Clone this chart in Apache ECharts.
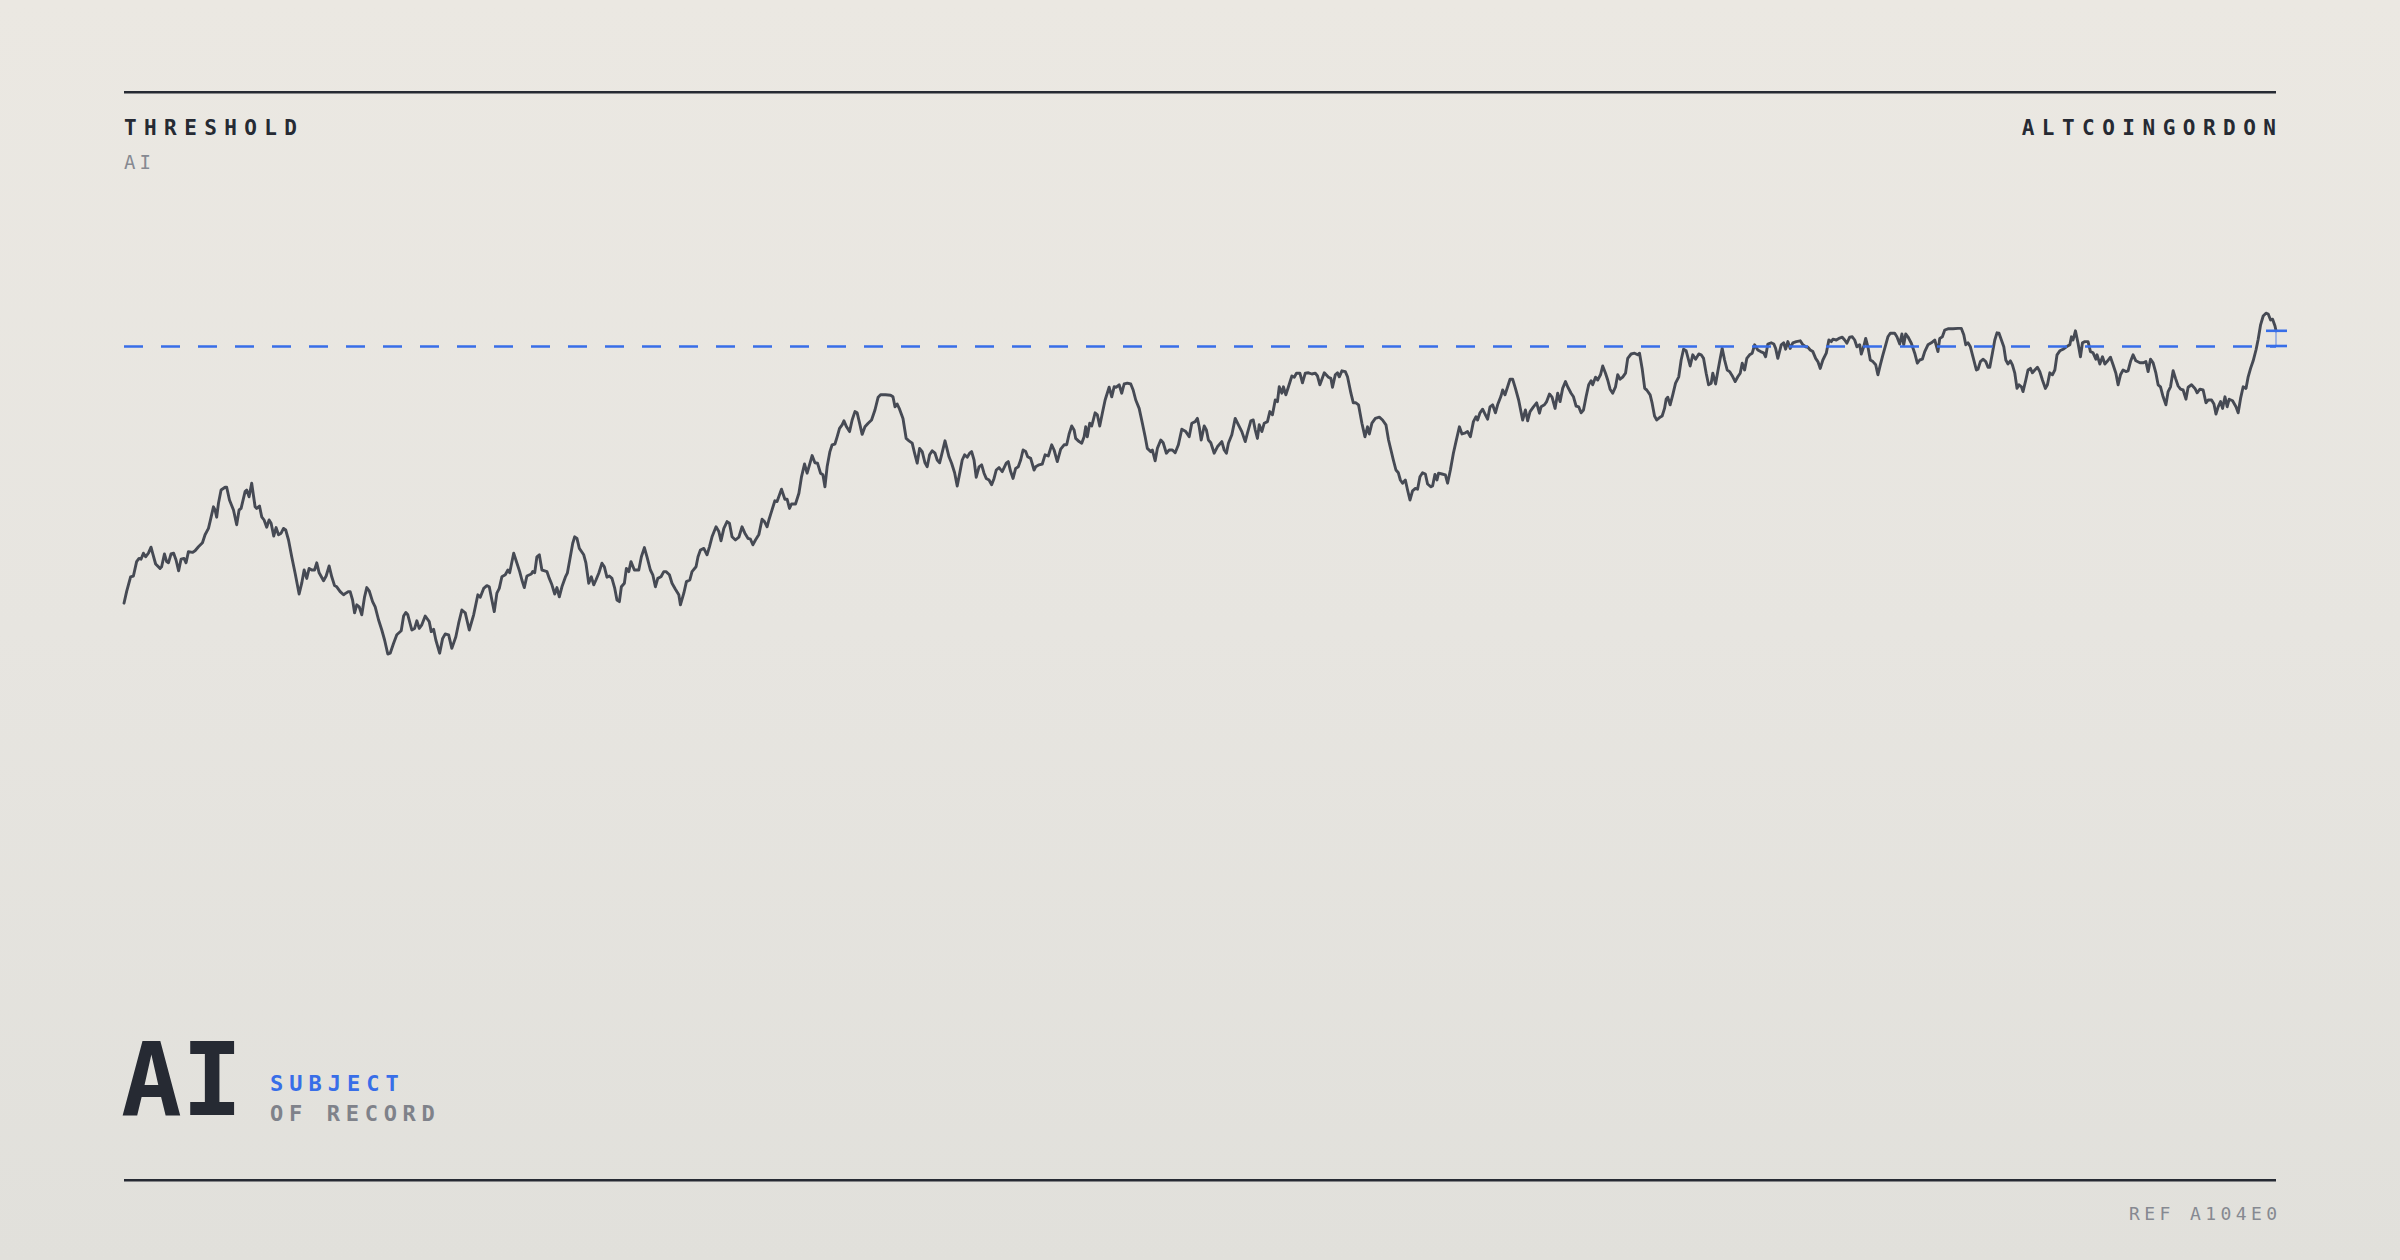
<!DOCTYPE html>
<html><head><meta charset="utf-8">
<script src="https://cdn.jsdelivr.net/npm/echarts@6/dist/echarts.min.js"></script>
<style>
html,body{margin:0;padding:0;width:2400px;height:1260px;overflow:hidden;}
body{background:linear-gradient(180deg,#ebe8e2 0%,#e7e5e0 50%,#e1e0db 100%);}
#chart{width:2400px;height:1260px;}
</style></head><body><div id="chart"></div>
<script>
// ---- data ----
const days = [
0,1.3,3.3,4.7,6.3,7.5,8.5,9.7,10.8,12.2,13.5,14.3,15.8,18,18.8,20.2,21.3,22.2,23.5,24.8,26,27.3,28.5,30,31,32.2,34.2,35.5,37.2,39.2,40.5,42.2,43,44.7,45.5,46.3,47.2,48.5,50.5,51.3,52.7,54.7,56.3,57.5,58.5,60.5,61.3,62.5,63.8,65.5,66.3,67.7,68.8,70,71.3,72.5,73.5,74.8,76,77.2,78.5,79.7,80.8,82.2,83.8,85.5,87.5,88.8,90,91.3,92.5,93.8,95.2,96.3,97.5,99.7,101,102.5,103.8,105.2,106.3,108,109.7,110.8,112.2,113,114.2,115.2,116.3,117.5,118.8,120.2,121.3,122.5,124.2,125.5,127.2,128.8,130.2,131.8,133,134.7,136.3,138.5,139.7,140.8,141.8,143.8,145.2,146.3,147.5,148.8,150.5,
152.5,153.5,154.7,155.8,157.7,159.2,160.5,162.2,163.8,165.8,167.2,168.8,170.5,172.5,174.7,176.8,178,179.7,181.3,182.5,183.8,185,186.3,187.5,188.8,190.5,191.8,192.7,194.7,195.8,197.7,198.8,200,201.3,203.5,204.2,205.2,206.3,207.5,208.8,210.2,211.3,212.5,213.8,215.2,216.3,217.5,218.8,220.5,221.5,222.7,224.2,225.2,226.3,227.5,229.7,230.8,232.2,233.5,234.7,235.8,237.2,238.8,240,241.3,242.5,243.8,245.2,246.3,247.5,248.5,250,251,252.2,253.3,255,257.2,258.5,260,261.3,263,264.2,265.5,266.7,268.3,269.7,270.8,272.5,273.8,275.5,277.2,278,279.7,281,282.7,283.8,285.8,286.8,288,289.7,291.3,292.5,293.8,295.8,297.2,298.3,299.7,301.3,302.5,303.8,305.5,
307.2,308.8,310.2,311.8,313,314.2,315.5,317.2,318.8,320,321.3,322.2,323.5,325.2,326.3,328.5,330.2,331.3,332.5,333.5,335.5,337.2,338.5,340,341.3,342.5,343.8,345.2,346.5,348,349.2,350.2,351.3,352.7,353.8,355.2,356.3,357.5,358.8,359.7,361,362.5,363.8,365.2,366.3,367.5,368.8,370.2,371.8,373.5,375.2,376.8,378,380.5,383,384.2,385.2,386.3,387.5,389.2,390.8,392.2,393.8,395,396.3,397.5,398.8,400.2,401.3,402.5,403.8,405.2,406.3,407.5,408.5,410.2,412.2,413.5,415,416.3,417.7,418.8,420,421.3,422.5,423.5,424.7,425.8,427.2,428.5,429.7,430.8,432.2,433.5,434.7,435.8,437.2,438.8,440.8,441.8,443,444.2,445.5,446.8,448,449.2,450.5,451.5,453,454.7,455.5,457.2,458.8,460.2,
461.8,463.5,464.7,466.3,468,469.7,471,472.2,473.5,474.7,475.5,477.2,478.5,479.7,480.5,481.3,482.5,483.5,485.2,486.3,487.5,488.8,490.2,492.2,493.5,494.7,495.8,497.2,498.5,499.7,501.3,503,504.2,505.5,507.2,508.8,510.2,511.3,513,513.8,515.2,516.3,518,519.2,520.8,522.2,523.8,525.2,526.8,528.5,530.5,532.2,533.5,535.2,536.3,537.2,538.2,539.7,540.8,541.8,543,544.7,546.3,548.5,549.7,550.8,551.8,553.5,555.2,556.8,558.5,560.2,561.3,563,564.2,565.2,566.3,567.2,568.5,569.7,571.3,572.5,573.8,575.2,576.3,577.2,578.5,579.3,580.5,581.8,583.5,584.7,585.8,587.5,588.8,590.2,591.8,593.5,595.2,596.3,597.5,599.7,601.8,603,603.8,605.2,606.3,607.2,608.5,610.2,611.3,613,614.2,615.5,
616.8,618.5,620,621.3,622.2,623.5,625.2,627.2,628.8,630.5,631.8,633,634.2,635.5,636.7,637.7,638.8,640.2,641.3,642.5,643.8,645.2,646.3,647.5,648.8,650.2,651.3,653,653.8,655,656,656.8,658.5,660.2,661.3,662.7,664.2,665.5,667.2,668.5,670.2,671.3,672.7,674.2,675.5,676.3,677.5,678.8,680.2,681.3,682.5,683.8,685.2,686.3,688,688.8,690,691.3,692.5,693.8,695.2,696.8,698.8,700.2,701.3,702.5,704.2,705.8,707.2,708,709.7,710.8,712.2,713.5,715,716.3,717.5,718.8,720.2,721.3,723,724.2,725.5,726.8,728,729.2,730.5,731.8,733,733.8,735.2,736.3,737.7,738.8,740.2,741.3,742.5,743.8,745.2,746.3,747.5,748.8,750.2,751.3,753,754.7,756.3,757.2,758.5,759.8,760.8,762.5,763.5,764.7,765.8,767.2,768.5,769.7,770.5,
771.3,772.5,773.8,775.2,776.8,778,779.2,780.5,782.5,783.8,785.2,786.8,788,789.2,790.5,791.7,793,793.8,795.2,796.3,797.5,798.5,799.7,801,802.2,803.8,805,806.3,807.5,808.5,809.7,810.8,812.2,813.5,814.7,816.3,817.7,819.2,820.2,821.3,823,824.3,825.2,826.3,828,829.2,830.2,831.3,832.5,833.8,835.5,837.5,838.8,840.2,841.3,842.5,843.8,845.2,846.3,847.5,848.8,850.5,851.8,853,853.8,855.5,856.8,858.5,859.7,860.8,862.2,863.5,864.7,865.8,867.2,868,869.2,870.2,871.3,872.5,873.8,875.2,876.3,877.5,878.8,880.2,881.3,882.5,884.7,885.8,887.2,888.3,889.2,890.2,891.3,893,894.7,896,897.2,898.5,899.7,901.3,903,904.7,906.3,907.2,908.5,909.7,911.3,913.8,916.3,918,919.2,920.2,921.3,922.5,923.8,925.5,
926.3,927.5,928.8,930.2,931.3,932.2,933.5,934.7,935.8,936.8,938,939.2,940.2,941.3,942.5,943.5,944.7,945.8,946.8,948,948.8,950.2,951.3,952.5,953.5,954.7,956,957.2,958.5,960,961,962.2,963.5,964.7,965.8,967.2,968.8,970.5,972.2,973,973.8,975,976.3,977.5,978.5,979.7,981.3,982.5,983.8,985.2,985.8,987.2,988.5,989.7,990.8,992.5,993.8,995.2,996.3,997.5,998.8,1000.2,1001.3,1002.5,1003.8,1005.2,1007.2,1008.8,1010.2,1011.3,1012.5,1013.8,1015.2,1016.3,1017.5,1018.8,1020.2,1021.3,1022.5,1023.8,1025,1026.3,1027.5,1028.8,1030.2,1031.3,1033,1034.7,1035.8,1037.2,1038.8,1040.2,1041.3,1043,1044.2,1045.2,1046.3,1047.5,1048.5,1049.7,1050.8,1051.8,1053.5,1055.2,1056.3,1057.5,1058.8,1060.2,1061.3,1062.5,1063.8,1065.2,1066.3,1067.5,1068.8,1070.2,1071.3,1072.5,1073.5,1074.7,1075.2
];
const values = [
21.7,24.6,28.3,28.5,32.1,32.9,32.7,34.2,33.3,34.2,35.7,34.2,31.5,30.4,30.8,34,32.1,31.8,34,34.2,32.5,29.8,32.7,32.9,31.8,34.6,34.4,34.8,35.8,36.8,38.8,40.4,42.1,45.8,45,43.2,46.7,50,50.7,50.7,47.5,45,41.3,45,45.4,49.6,50,48.3,51.7,45.8,45.4,46,43.3,42.5,40.7,42.5,41.7,38.5,40.6,38.8,39.2,40.4,40,37.5,33.3,29.2,24,26.7,30,27.9,30.4,30,30,31.8,29.3,27.3,28.5,31,28.3,26.1,25.8,24.6,23.8,24.2,24.6,24.6,22.5,19.3,21.3,20.8,18.8,23.3,25.6,24.8,22.1,20.8,17.5,15,12.5,9,9.2,11.7,13.8,14.8,18.5,19.4,18.8,15,15.4,17.3,15.4,16.3,18.5,
17.1,14.6,15.2,12.5,9.2,12.9,14,13.8,10.4,13.3,16.7,20,19.3,15,18.8,23.8,23.2,25.4,26.1,25.8,22.5,19.6,24.2,25.4,28.3,28.8,30,29.3,34.2,32.5,29.6,27.5,25.6,28.5,29,29.6,29.3,33.3,33.8,30,29.8,29.6,27.9,26.3,24,25.6,23.3,25.8,28.2,29.2,32.5,36.7,38.3,37.9,35.4,33.8,31.7,26.7,28.3,26.3,27.5,29.2,31.7,30.8,28.2,28.5,27.9,25.4,22.5,22.1,25.8,26.7,30.4,29.6,32.1,30,30,33.3,35.6,33.3,30,28.8,25.8,27.9,28.3,29.6,29.6,28.8,26.7,25.2,23.8,21.3,24.2,27.1,27.5,29.6,30.8,33.3,35,35.4,33.8,35.8,38.3,40.8,39.6,37.3,40.4,42.1,41.7,38.3,37.5,
38.2,40.8,39.2,37.9,37.7,36.3,37.5,38.9,42.7,42.1,40.8,42.5,44.6,47.3,47.1,50.2,47.7,47.7,45.4,46.5,46.5,49.2,53.3,56.5,54.2,56.3,58.6,56.8,56.7,54.2,53.8,50.8,55.8,59.6,61.3,61.5,63.3,65.4,66.3,67.3,65.8,64.6,67.5,69.6,69.3,66.8,63.9,65.8,66.7,67.5,70,73.2,73.8,73.8,73.7,73.3,70.8,71.5,70.2,67.9,62.9,62.3,61.7,59.2,56.7,60.4,59.6,56.8,55.8,58.8,59.8,59.2,57.5,56.8,58.8,62.3,58.3,56.7,54.3,51,54.6,57.5,58.8,58.2,59.2,59.6,57.5,53.2,55.8,56.3,54.2,52.9,52.5,51.3,52.9,55,55.6,54.6,56.7,57.1,54.6,52.9,55.4,55.8,57.5,60,59.6,58.3,57.9,55,55.8,56.3,56.5,58.8,
58.5,61.3,60,57.1,60.2,61.3,61.3,64,66,65,62.9,62.1,61.7,63.3,65.8,63.3,66.7,66,69.3,68.8,66,69.2,72.5,75.7,73.3,75.8,75.7,76.3,74.2,76.5,76.7,76.5,75,72.5,70.4,66.7,63.3,60.4,59.6,60,57.3,60.4,62.5,61.8,59.2,60,60,59.3,61.3,65.2,64.6,63.3,66.7,67.1,67.9,65.8,62.5,66,65,62.5,61.8,59.2,60.8,62.1,60,59.2,61.7,63.8,67.9,66.3,64.6,62.1,64.2,67.3,67.5,65,62.9,66.3,64.6,66.7,67.1,69.6,68.8,72.5,72.1,75.8,74.2,75.8,73.8,75.8,78.5,78.2,79.2,79.2,76.8,79.2,79.3,79,79.2,78.5,76.3,79.3,78.2,77.9,75.7,78.8,79.3,78.3,79.8,79.6,78.3,74.2,71.8,71.8,
71.3,66.7,63.3,65.8,64,66.7,67.9,68.2,67.5,66.3,62.5,60,57.5,55,54.3,52.5,51.7,52.5,50,47.5,49.8,50.4,50.2,53.3,54.3,54,51.5,50.8,51,53.9,52.5,54.2,54,53.8,51.7,55,59.2,62.1,65.8,64,64.3,64.6,63.3,67.1,68.3,67.5,69.3,70.2,68.8,67.7,70.8,71.3,69.3,71.3,73.5,75,73.8,75.8,77.7,77.7,75.4,72.5,67.5,70,67.3,69.6,70.8,71.8,69.2,70.8,71.3,72.1,74,73.2,70.4,74.2,72.1,75.4,77.1,75.8,74.2,73.3,71,70.8,69.3,70,73.3,76.3,77.3,76.3,78.2,77.5,78.8,81,79.2,77.5,75.2,74.2,75.8,78.8,77.7,78.2,79.2,82.9,84,84.2,83.8,84.2,80.4,75.4,75,73.8,71.7,68.5,67.5,68.1,68.5,70.4,72.7,
73.2,71.3,73.8,76.7,78.3,82.5,85.2,84.8,81,83.8,82.7,84,83.8,82.9,79.2,76.3,76.7,79.2,76.5,79.6,82.9,85.4,82.5,80,79.6,78.3,77.1,78.3,79.2,81.7,80,82.9,83.8,84.2,86.3,85,84.6,84.3,83.3,86.5,86.8,86.5,85.4,82.9,86.3,86.8,85.2,87.1,85.4,86.8,87.1,87.3,86.3,85.8,85.7,85,84.6,82.9,82.1,80.4,82.5,84.2,87.5,87.1,87.7,87.5,87.9,88.2,87.5,86.7,88.2,88.3,87.5,85.8,86.3,84,85.8,87.9,85.8,82.5,82.1,81.3,78.8,81.3,83.8,86.3,88.3,89.2,89.2,88.3,86.5,89,86.3,89,88.3,86.7,84.2,81.7,82.5,82.7,84.6,86.3,86.8,87.5,84.6,87.9,88.3,90,90.3,90.3,90.4,90.4,88.8,86.3,86.8,85.8,83.3,80,
80.2,82.1,82.7,82.1,80.7,80.7,84.2,87.5,89.3,89.2,87.5,85.8,82.5,81.5,82.3,81.3,79.2,75.4,76.3,75.8,74.6,77.5,80,80.4,79.3,80,80.7,79.6,77.5,75.4,76.3,79.3,78.8,80,83.8,84.8,85.2,85.8,86.3,88.3,87.5,89.8,86.7,83.3,86.8,87.1,87.1,84.6,84.3,82.7,83.8,81.5,83.3,81.5,82.1,83.2,81.3,79.2,76.3,78.8,80,79.6,79.8,82.1,83.8,82.3,81.8,81.8,82.1,79.6,82.7,81.8,79.2,76.3,75.8,73.3,71.3,74.6,75.8,79.8,77.9,76,75.2,75,72.7,75.7,76.3,75.4,74.3,75.2,75,71.8,72.5,72.5,71.5,69,70.8,72.1,70.4,73.3,70.8,72.7,72.3,70.8,69.3,72.9,75.8,75.4,78.3,80.4,82.3,85,87.7,91.3,93.5,94.2,94,92.5,92.7,91,89.8
];
const threshold = 86;
const titleLeft = 'THRESHOLD';
const subLeft = 'AI';
const titleRight = 'ALTCOINGORDON';
const bigMark = 'AI';
const tagTop = 'SUBJECT';
const tagBottom = 'OF RECORD';
const refText = 'REF A104E0';

if (days.length !== values.length) throw new Error('length mismatch ' + days.length + ' vs ' + values.length);

const MONO = '"DejaVu Sans Mono", "Liberation Mono", monospace';
const DARK = '#262a33';
const BLUE = '#386ee8';
const GRAY = '#868991';

const lastIdx = days.length - 1;
const chart = echarts.init(document.getElementById('chart'), null, {renderer: 'svg', width: 2400, height: 1260});

const spacingRules = [
  {text: titleLeft, size: 21, ls: 7.4},
  {text: titleRight, size: 21, ls: 7.5},
  {text: subLeft, size: 19, ls: 4},
  {text: tagTop, size: 22, ls: 6},
  {text: tagBottom, size: 22, ls: 5.7},
  {text: refText, size: 18, ls: 4.4}
];

chart.setOption({
  backgroundColor: 'transparent',
  animation: false,
  grid: {left: 124, right: 124, top: 290, bottom: 570, containLabel: false},
  xAxis: {type: 'value', min: days[0], max: days[lastIdx], show: false},
  yAxis: {type: 'value', min: 0, max: 100, show: false, splitLine: {show: false}},
  series: [
    {
      type: 'line',
      data: days.map((d, i) => [d, values[i]]),
      showSymbol: false,
      symbol: 'none',
      lineStyle: {color: '#464a54', width: 2.9, join: 'round', cap: 'round'},
      z: 3,
      silent: true,
      markLine: {
        silent: true,
        symbol: 'none',
        label: {show: false},
        lineStyle: {color: BLUE, width: 2.6, type: [19, 18], opacity: 1},
        data: [{yAxis: threshold}]
      }
    },
    {
      type: 'custom',
      silent: true,
      z: 4,
      clip: false,
      data: [[days[lastIdx], values[lastIdx], threshold]],
      renderItem: function (params, api) {
        const p = api.coord([api.value(0), api.value(1)]);
        const t = api.coord([api.value(0), api.value(2)]);
        return {
          type: 'group',
          children: [
            {type: 'line', shape: {x1: p[0], y1: p[1], x2: p[0], y2: t[1]}, style: {stroke: 'rgba(56,110,232,0.55)', lineWidth: 1.5}},
            {type: 'line', shape: {x1: p[0] - 10, y1: p[1], x2: p[0] + 11, y2: p[1]}, style: {stroke: BLUE, lineWidth: 2.6}},
            {type: 'line', shape: {x1: p[0] - 10, y1: t[1], x2: p[0] + 11, y2: t[1]}, style: {stroke: BLUE, lineWidth: 2.6}}
          ]
        };
      }
    }
  ],
  graphic: [
    {type: 'rect', silent: true, shape: {x: 124, y: 91, width: 2152, height: 2.4}, style: {fill: DARK}},
    {type: 'rect', silent: true, shape: {x: 124, y: 1179, width: 2152, height: 2.4}, style: {fill: DARK}},
    {type: 'text', silent: true, x: 124, y: 127.5, style: {text: titleLeft, font: 'bold 21px ' + MONO, fill: DARK, align: 'left', verticalAlign: 'middle'}},
    {type: 'text', silent: true, x: 124, y: 161.5, style: {text: subLeft, font: '19px ' + MONO, fill: GRAY, align: 'left', verticalAlign: 'middle'}},
    {type: 'text', silent: true, x: 2276 + 7.5, y: 127.5, style: {text: titleRight, font: 'bold 21px ' + MONO, fill: DARK, align: 'right', verticalAlign: 'middle'}},
    {type: 'text', silent: true, x: 121, y: 1080, style: {text: bigMark, font: 'bold 101px ' + MONO, fill: DARK, align: 'left', verticalAlign: 'middle'}},
    {type: 'text', silent: true, x: 270, y: 1083.5, style: {text: tagTop, font: 'bold 22px ' + MONO, fill: BLUE, align: 'left', verticalAlign: 'middle'}},
    {type: 'text', silent: true, x: 270, y: 1113.5, style: {text: tagBottom, font: 'bold 22px ' + MONO, fill: '#7f828a', align: 'left', verticalAlign: 'middle'}},
    {type: 'text', silent: true, x: 2277 + 4.4, y: 1213, style: {text: refText, font: '18px ' + MONO, fill: GRAY, align: 'right', verticalAlign: 'middle'}}
  ]
});

function applySpacing() {
  document.querySelectorAll('#chart svg text').forEach(function (t) {
    const txt = t.textContent;
    const fs = parseFloat(getComputedStyle(t).fontSize);
    const rule = spacingRules.find(r => r.text === txt && Math.abs(r.size - fs) < 1.5);
    if (rule) t.setAttribute('letter-spacing', rule.ls);
  });
}
chart.on('finished', applySpacing);
applySpacing();
setTimeout(applySpacing, 50);
</script>
</body></html>
